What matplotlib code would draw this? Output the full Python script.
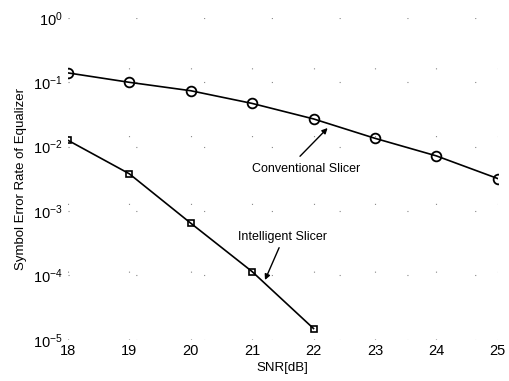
import matplotlib
matplotlib.use("Agg")
import matplotlib.pyplot as plt
from matplotlib.ticker import FixedLocator

plt.rcParams['font.family'] = ['Liberation Sans', 'DejaVu Sans']
plt.rcParams['mathtext.fontset'] = 'custom'
plt.rcParams['mathtext.rm'] = 'Liberation Sans'
plt.rcParams['mathtext.it'] = 'Liberation Sans:italic'
plt.rcParams['mathtext.bf'] = 'Liberation Sans:bold'

snr = [18, 19, 20, 21, 22, 23, 24, 25]
conventional = [0.14, 0.10, 0.074, 0.047, 0.027, 0.0135, 0.0072, 0.0032]
snr_int = [18, 19, 20, 21, 22]
intelligent = [0.0126, 0.0038, 6.5e-4, 1.15e-4, 1.5e-5]
xticks = [18, 19, 20, 21, 22, 23, 24, 25]
yticks = [1e-5, 1e-4, 1e-3, 1e-2, 1e-1, 1e0]
ytick_labels = [r'$\mathregular{10^{-5}}$', r'$\mathregular{10^{-4}}$', r'$\mathregular{10^{-3}}$',
                r'$\mathregular{10^{-2}}$', r'$\mathregular{10^{-1}}$', r'$\mathregular{10^{0}}$']

fig = plt.figure(figsize=(5.10, 3.81), dpi=100)
ax = fig.add_axes([0.133, 0.108, 0.843, 0.845])

ax.plot(snr, conventional, color='black', lw=1.2, marker='o', ms=7,
        mfc='none', mec='black', mew=1.3)
ax.plot(snr_int, intelligent, color='black', lw=1.2, marker='s', ms=4.5,
        mfc='none', mec='black', mew=1.2)

ax.set_yscale('log')
ax.set_xlim(18, 25)
ax.set_ylim(1e-5, 1e0)
ax.xaxis.set_major_locator(FixedLocator(xticks))
ax.set_xticklabels([str(v) for v in xticks])
ax.yaxis.set_major_locator(FixedLocator(yticks))
ax.set_yticklabels(ytick_labels)
ax.yaxis.set_minor_locator(FixedLocator([]))
ax.tick_params(axis='both', which='both', length=0, labelsize=10.5)
ax.tick_params(axis='x', pad=3)
ax.tick_params(axis='y', pad=4)

for s in ax.spines.values():
    s.set_visible(False)
ax.grid(True, which='major', color='#888888', lw=0.8, linestyle=(0, (1, 60)))

ax.set_xlabel('SNR[dB]', fontsize=9.5, labelpad=3)
ax.set_ylabel('Symbol Error Rate of Equalizer', fontsize=9.5, labelpad=4)

ax.text(21.0, 0.0045, 'Conventional Slicer', fontsize=9, ha='left', va='center')
ax.annotate('', xy=(22.23, 0.0195), xytext=(21.78, 0.0071),
            arrowprops=dict(arrowstyle='-|>', color='black', lw=1.0,
                            mutation_scale=8, shrinkA=0, shrinkB=0))
ax.text(21.49, 4.0e-4, 'Intelligent Slicer', fontsize=9, ha='center', va='center')
ax.annotate('', xy=(21.21, 8.5e-5), xytext=(21.44, 2.7e-4),
            arrowprops=dict(arrowstyle='-|>', color='black', lw=1.0,
                            mutation_scale=8, shrinkA=0, shrinkB=0))

fig.savefig('out.png', dpi=100)
